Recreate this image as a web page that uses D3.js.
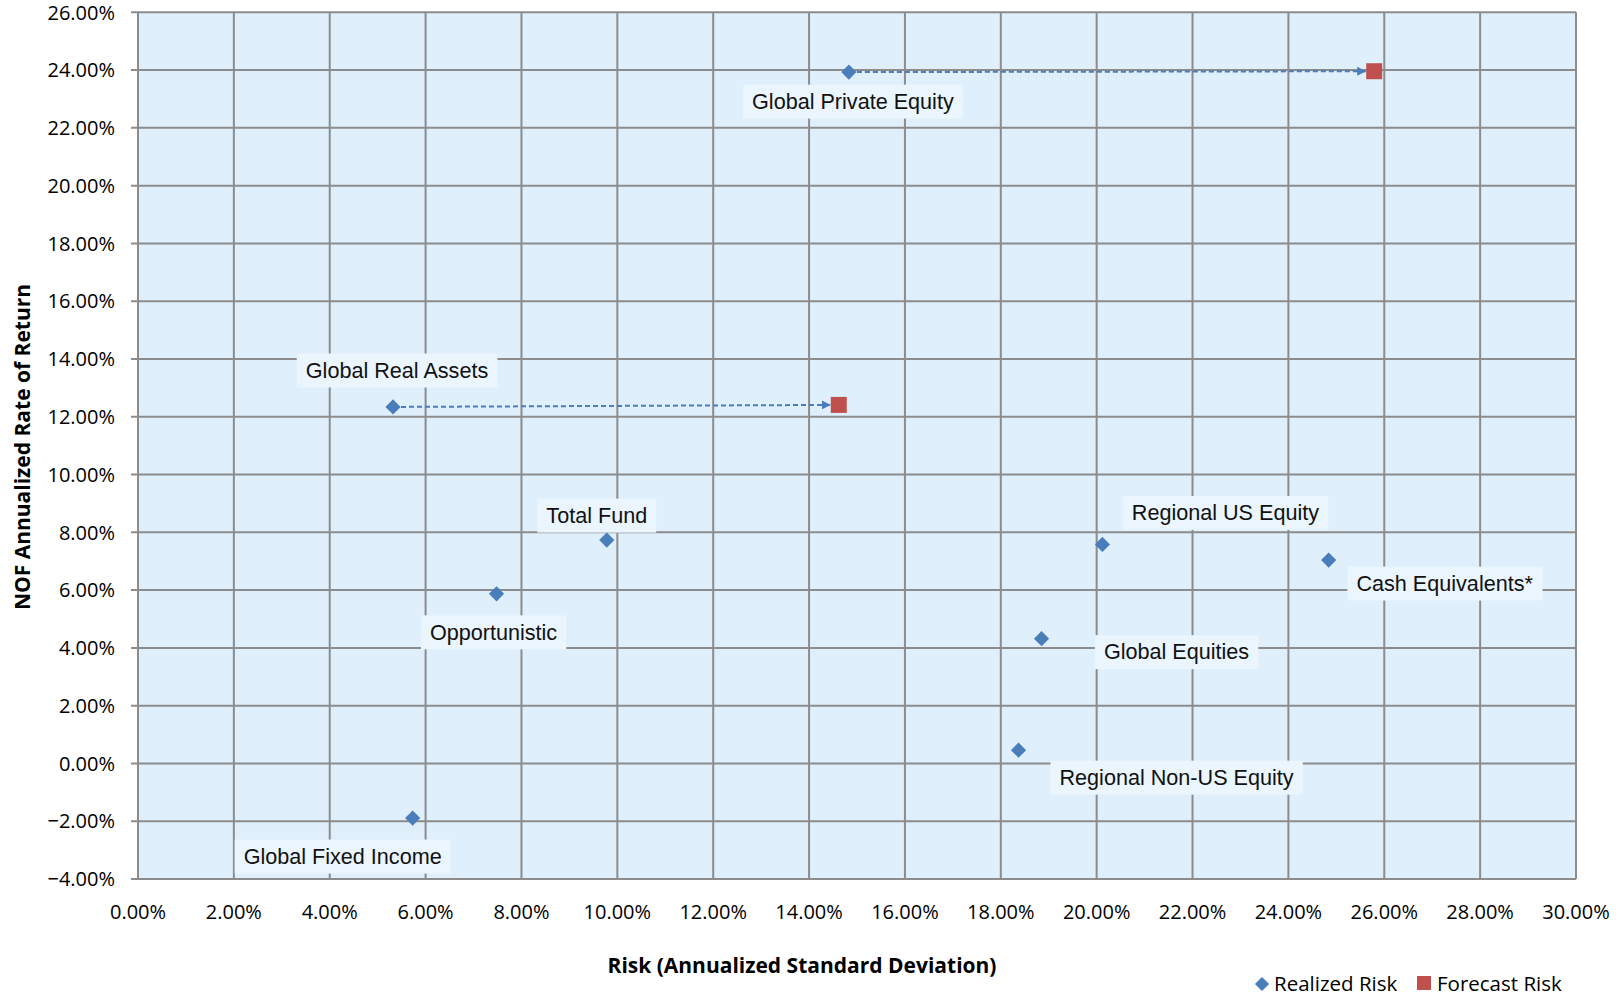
<!DOCTYPE html>
<html>
<head>
<meta charset="utf-8">
<script src="https://cdn.jsdelivr.net/npm/d3@7"></script>
<style>
    body { margin: 0; background: #fff; }
    svg { display: block; }
</style>
</head>
<body>
<svg id="chartSVG" width="1621" height="998"></svg>
<script>
// realized risk / return per asset class
const assetNames = ["Global Private Equity", "Global Real Assets", "Total Fund", "Opportunistic",
    "Global Fixed Income", "Regional US Equity", "Cash Equivalents*", "Global Equities", "Regional Non-US Equity"];
const realizedRisk = [0.1483, 0.0532, 0.0978, 0.0748, 0.0573, 0.2012, 0.2484, 0.1885, 0.1837];
const annualReturn = [0.2393, 0.1234, 0.0773, 0.0587, -0.0189, 0.0758, 0.0704, 0.0432, 0.0046];

// forecast risk (only two asset classes)
const forecastNames = ["Global Private Equity", "Global Real Assets"];
const forecastRisk = [0.2579, 0.1462];
const forecastReturn = [0.2396, 0.1241];

const xTicks = [0, 0.02, 0.04, 0.06, 0.08, 0.10, 0.12, 0.14, 0.16, 0.18, 0.20, 0.22, 0.24, 0.26, 0.28, 0.30];
const yTicks = [-0.04, -0.02, 0, 0.02, 0.04, 0.06, 0.08, 0.10, 0.12, 0.14, 0.16, 0.18, 0.20, 0.22, 0.24, 0.26];
const legendItems = ["Realized Risk", "Forecast Risk"];

// label placement relative to the point (px)
const labelOffset = {
    "Global Private Equity": [4, 29],
    "Global Real Assets": [4, -37],
    "Total Fund": [-10, -25],
    "Opportunistic": [-3, 38],
    "Global Fixed Income": [-70, 38],
    "Regional US Equity": [123, -32],
    "Cash Equivalents*": [116, 23],
    "Global Equities": [135, 13],
    "Regional Non-US Equity": [158, 27]
};

const blue = "#4a7ebb", red = "#c0504d", gridColor = "#8c8c8c";
const tickFont = "'Open Sans', sans-serif";
const labelFont = "'Liberation Sans', Arial, sans-serif";

const svg = d3.select('#chartSVG');
const margin = {top: 12.3, right: 45, bottom: 119, left: 138};
const width = 1621, height = 998;

const xScale = d3.scaleLinear().domain([0, 0.30]).range([margin.left, width - margin.right]);
const yScale = d3.scaleLinear().domain([-0.04, 0.26]).range([height - margin.bottom, margin.top]);
const pct = d3.format(".2%");

const defs = svg.append('defs');
defs.append('marker')
    .attr("id", "arrowHead")
    .attr("viewBox", "0 0 10 10")
    .attr("refX", 10).attr("refY", 5)
    .attr("markerUnits", "userSpaceOnUse")
    .attr("markerWidth", 9).attr("markerHeight", 12)
    .attr("orient", "auto")
    .append("path")
    .attr("d", "M0,0 L10,5 L0,10 z")
    .attr("fill", blue);

// plot area
svg.append('rect')
    .attr("x", xScale(0)).attr("y", yScale(0.26))
    .attr("width", xScale(0.30) - xScale(0))
    .attr("height", yScale(-0.04) - yScale(0.26))
    .attr("fill", "#dfeffc");

const grid = svg.append('g');
grid.selectAll('.vgrid')
    .data(xTicks)
    .join("line")
    .classed("vgrid", true)
    .attr("x1", d => xScale(d)).attr("x2", d => xScale(d))
    .attr("y1", yScale(0.26)).attr("y2", yScale(-0.04))
    .attr("stroke", gridColor).attr("stroke-width", 2);
grid.selectAll('.hgrid')
    .data(yTicks)
    .join("line")
    .classed("hgrid", true)
    .attr("x1", xScale(0) - 7).attr("x2", xScale(0.30))
    .attr("y1", d => yScale(d)).attr("y2", d => yScale(d))
    .attr("stroke", gridColor).attr("stroke-width", 2);

// tick labels
svg.append('g').selectAll('text')
    .data(yTicks)
    .join("text")
    .attr("x", xScale(0) - 23)
    .attr("y", d => yScale(d))
    .attr("dy", "0.36em")
    .attr("text-anchor", "end")
    .attr("font-family", tickFont)
    .attr("font-size", 20)
    .attr("fill", "#000")
    .text(d => pct(d));
svg.append('g').selectAll('text')
    .data(xTicks)
    .join("text")
    .attr("x", d => xScale(d))
    .attr("y", 919)
    .attr("text-anchor", "middle")
    .attr("font-family", tickFont)
    .attr("font-size", 20)
    .attr("fill", "#000")
    .text(d => pct(d));

// axis titles
svg.append('text')
    .attr("x", 802).attr("y", 973)
    .attr("text-anchor", "middle")
    .attr("font-family", tickFont)
    .attr("font-weight", "bold")
    .attr("font-size", 21)
    .text("Risk (Annualized Standard Deviation)");
svg.append('text')
    .attr("transform", "translate(30, 447) rotate(-90)")
    .attr("text-anchor", "middle")
    .attr("font-family", tickFont)
    .attr("font-weight", "bold")
    .attr("font-size", 21)
    .text("NOF Annualized Rate of Return");

// arrows from realized to forecast
const arrows = forecastNames.map((n, i) => {
    let k = assetNames.indexOf(n);
    return {x0: realizedRisk[k], y0: annualReturn[k], x1: forecastRisk[i], y1: forecastReturn[i]};
});
svg.append('g').selectAll('line')
    .data(arrows)
    .join("line")
    .attr("x1", d => xScale(d.x0)).attr("y1", d => yScale(d.y0))
    .attr("x2", d => xScale(d.x1) - 8).attr("y2", d => yScale(d.y1))
    .attr("stroke", blue)
    .attr("stroke-width", 2)
    .attr("stroke-dasharray", "5,3")
    .attr("marker-end", "url(#arrowHead)");

// data labels with boxes
const points = assetNames.map((n, i) => ({name: n, risk: realizedRisk[i], ret: annualReturn[i]}));
const label_g = svg.append('g').selectAll('g')
    .data(points)
    .join("g")
    .attr("transform", d => `translate(${xScale(d.risk) + labelOffset[d.name][0]}, ${yScale(d.ret) + labelOffset[d.name][1]})`);
label_g.append("rect").classed("labelBox", true);
label_g.append("text")
    .attr("text-anchor", "middle")
    .attr("dy", "0.36em")
    .attr("font-family", labelFont)
    .attr("font-size", 21.6)
    .attr("fill", "#111")
    .text(d => d.name);
label_g.each(function() {
    let g = d3.select(this);
    let bb = g.select("text").node().getBBox();
    g.select("rect")
        .attr("x", bb.x - 9).attr("y", -16.5)
        .attr("width", bb.width + 18).attr("height", 34)
        .attr("fill", "#eaf5fd");
});

// markers
svg.append('g').selectAll('path')
    .data(points)
    .join("path")
    .attr("transform", d => `translate(${xScale(d.risk)}, ${yScale(d.ret)}) rotate(45)`)
    .attr("d", d3.symbol().type(d3.symbolSquare).size(115))
    .attr("fill", blue);
svg.append('g').selectAll('rect')
    .data(forecastRisk)
    .join("rect")
    .attr("x", d => xScale(d) - 8)
    .attr("y", (d, i) => yScale(forecastReturn[i]) - 8)
    .attr("width", 16).attr("height", 16)
    .attr("fill", red);

// legend
const legend = svg.append('g');
legend.append("path")
    .attr("transform", "translate(1262, 984) rotate(45)")
    .attr("d", d3.symbol().type(d3.symbolSquare).size(100))
    .attr("fill", blue);
legend.append("rect")
    .attr("x", 1417).attr("y", 976)
    .attr("width", 14).attr("height", 14)
    .attr("fill", red);
legend.selectAll('text')
    .data(legendItems)
    .join("text")
    .attr("x", (d, i) => i === 0 ? 1274 : 1437)
    .attr("y", 991)
    .attr("font-family", tickFont)
    .attr("font-size", 20.5)
    .attr("fill", "#000")
    .text(d => d);
</script>
</body>
</html>
